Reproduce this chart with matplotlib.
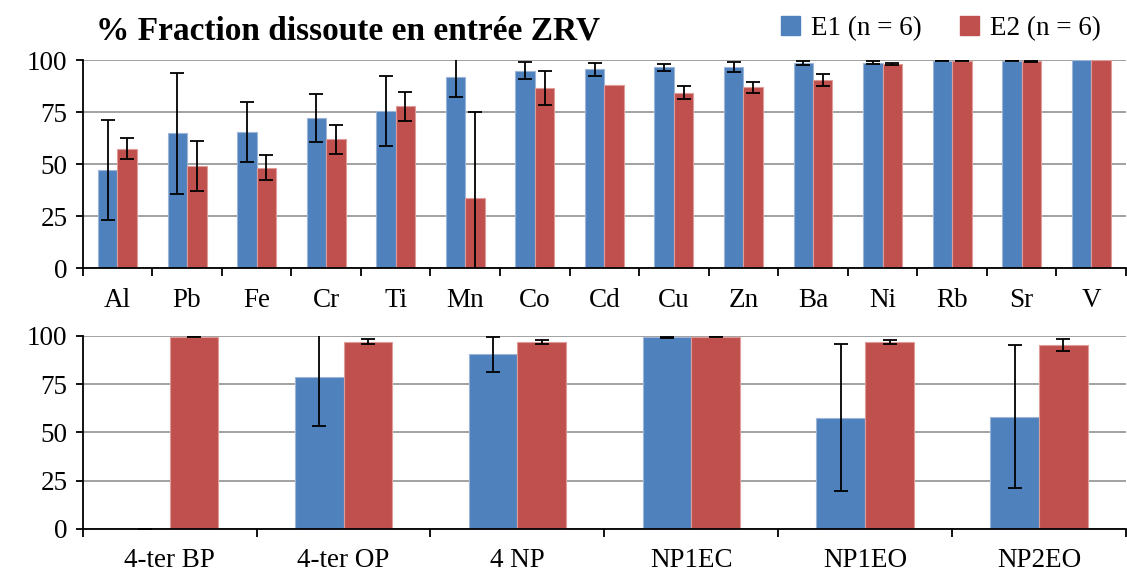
import numpy as np
import matplotlib
matplotlib.use("Agg")
from matplotlib import pyplot as plt
from matplotlib.patches import Patch

plt.rcParams['font.family'] = ['Liberation Serif', 'DejaVu Serif']

# top panel: metals
metals = ['Al', 'Pb', 'Fe', 'Cr', 'Ti', 'Mn', 'Co', 'Cd', 'Cu', 'Zn', 'Ba', 'Ni', 'Rb', 'Sr', 'V']
e1_metals = [47.2, 64.8, 65.4, 72.0, 75.5, 91.7, 94.9, 95.5, 96.6, 96.6, 98.6, 98.6, 99.7, 99.7, 100.0]
e1_metals_err = [24.0, 29.0, 14.6, 11.6, 17.0, 9.5, 4.0, 3.0, 1.7, 2.5, 1.0, 0.7, 0.3, 0.3, np.nan]
e2_metals = [57.4, 49.0, 48.2, 62.0, 77.8, 33.9, 86.6, 88.0, 84.3, 86.9, 90.4, 97.9, 99.7, 99.4, 100.0]
e2_metals_err = [5.0, 12.0, 6.0, 7.0, 7.0, 41.0, 8.0, np.nan, 3.0, 2.6, 3.0, 0.5, 0.3, 0.2, np.nan]

# bottom panel: alkylphenols
compounds = ['4-ter BP', '4-ter OP', '4 NP', 'NP1EC', 'NP1EO', 'NP2EO']
e1_comp = [0.0, 78.6, 90.5, 99.3, 57.6, 58.1]
e1_comp_err = [0.0, 25.3, 9.0, 0.4, 38.0, 37.0]
e2_comp = [99.6, 97.1, 96.7, 99.7, 97.1, 95.2]
e2_comp_err = [0.3, 1.2, 1.0, 0.1, 1.0, 3.0]

BLUE = '#4F81BD'
RED = '#C0504D'
W = 0.28
FS = 19.5


def draw(ax, cats, v1, s1, v2, s2):
    x = np.arange(len(cats))
    for xs, v, s, c, ec in [(x - W/2, v1, s1, BLUE, '#9DB6D8'), (x + W/2, v2, s2, RED, '#DE9C9A')]:
        ax.bar(xs, v, W, color=c, edgecolor=ec, linewidth=0.8, zorder=3)
        s = np.asarray(s, dtype=float)
        ok = ~np.isnan(s)
        ax.errorbar(xs[ok], np.asarray(v)[ok], yerr=s[ok], fmt='none', ecolor='black',
                    elinewidth=1.3, capsize=5, capthick=1.3, zorder=4)
    ax.set_xlim(-0.5, len(cats) - 0.5)
    ax.set_ylim(0, 100)
    ax.set_yticks([0, 25, 50, 75, 100])
    ax.set_xticks(x)
    ax.set_xticklabels(cats)
    ax.set_xticks(np.arange(len(cats) + 1) - 0.5, minor=True)
    ax.tick_params(axis='x', which='major', length=0, pad=14, labelsize=FS)
    ax.tick_params(axis='x', which='minor', length=6, width=1.3, direction='out')
    ax.tick_params(axis='y', length=5, width=1.3, pad=6, labelsize=FS)
    ax.yaxis.grid(True, color='#9A9A9A', linewidth=1.3, zorder=0)
    ax.set_axisbelow(True)
    for sp in ['top', 'right']:
        ax.spines[sp].set_visible(False)
    ax.spines['left'].set_linewidth(1.3)
    ax.spines['bottom'].set_linewidth(1.3)
    ax.spines['bottom'].set_zorder(5)


fig = plt.figure(figsize=(11.27, 5.76), dpi=100)
ax1 = fig.add_axes([0.0734, 0.5342, 0.9257, 0.3616])
ax2 = fig.add_axes([0.0734, 0.0816, 0.9257, 0.3351])

draw(ax1, metals, e1_metals, e1_metals_err, e2_metals, e2_metals_err)
draw(ax2, compounds, e1_comp, e1_comp_err, e2_comp, e2_comp_err)

fig.text(0.085, 0.947, '% Fraction dissoute en entrée ZRV', fontsize=24, fontweight='bold',
         va='center', ha='left')

handles = [Patch(color=BLUE, label='E1 (n = 6)'), Patch(color=RED, label='E2 (n = 6)')]
fig.legend(handles=handles, loc='center right', bbox_to_anchor=(0.986, 0.951), ncol=2,
           frameon=False, fontsize=FS, handlelength=0.7, handleheight=0.7,
           handletextpad=0.4, columnspacing=1.4, borderaxespad=0)

fig.savefig('out.png', dpi=100)
